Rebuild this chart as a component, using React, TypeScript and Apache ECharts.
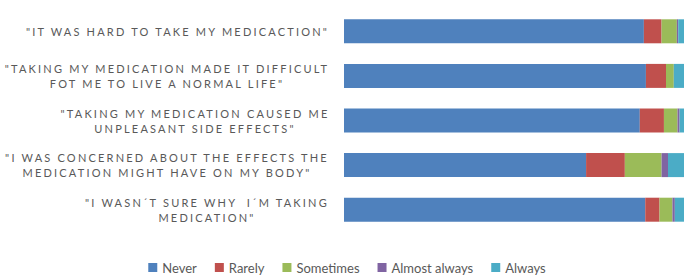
import React, { useEffect, useRef } from "react";
import * as echarts from "echarts";

const categories = [
  '"IT WAS HARD TO TAKE MY MEDICACTION"',
  '"TAKING MY MEDICATION MADE IT DIFFICULT\nFOT ME TO LIVE A NORMAL LIFE"',
  '"TAKING MY MEDICATION CAUSED ME\nUNPLEASANT SIDE EFFECTS"',
  '"I WAS CONCERNED ABOUT THE EFFECTS THE\nMEDICATION MIGHT HAVE ON MY BODY"',
  '"I WASN´T SURE WHY  I´M TAKING\nMEDICATION"',
];
const seriesNames = ["Never", "Rarely", "Sometimes", "Almost always", "Always"];
const never = [88.2, 88.8, 87.0, 71.2, 88.6];
const rarely = [5.2, 5.9, 7.1, 11.4, 4.2];
const sometimes = [4.5, 2.3, 4.0, 10.8, 3.8];
const almostAlways = [0.4, 0, 0.6, 1.9, 0.7];
const always = [1.7, 3.0, 1.3, 4.7, 2.7];
const colors = ["#4F81BD", "#C0504D", "#9BBB59", "#8064A2", "#4BACC6"];

const LABEL_FONT = "Lato";
const LABEL_SIZE = 11;
const LS = 2.2;
const LABEL_COLOR = "#595959";

export default function App() {
  const ref = useRef<HTMLDivElement>(null);
  useEffect(() => {
    if (!ref.current) return;
    const chart = echarts.init(ref.current, undefined, { renderer: "svg" });
    const ctx = document.createElement("canvas").getContext("2d")!;
    ctx.font = `${LABEL_SIZE}px ${LABEL_FONT}`;
    const rich: Record<string, any> = {};
    categories.forEach((c, i) => {
      const lines = c.split("\n");
      const w = Math.max(...lines.map((l) => ctx.measureText(l).width + l.length * LS));
      rich["r" + i] = {
        width: Math.ceil(w),
        align: "center",
        fontSize: LABEL_SIZE,
        fontFamily: LABEL_FONT,
        color: LABEL_COLOR,
        lineHeight: 15,
      };
    });
    const data = [never, rarely, sometimes, almostAlways, always];
    chart.setOption({
      animation: false,
      grid: {
        left: 344,
        right: 10,
        top: 9,
        bottom: 46,
        containLabel: false,
        outerBoundsMode: "none",
      },
      xAxis: { type: "value", min: 0, max: 100, show: false },
      yAxis: {
        type: "category",
        inverse: true,
        data: categories,
        axisLine: { show: false },
        axisTick: { show: false },
        axisLabel: {
          margin: 14,
          align: "right",
          color: LABEL_COLOR,
          fontSize: LABEL_SIZE,
          fontFamily: LABEL_FONT,
          lineHeight: 15,
          formatter: (v: string, i: number) =>
            v.split("\n").map((l) => `{r${i}|${l}}`).join("\n"),
          rich,
        },
      },
      legend: {
        data: seriesNames,
        left: "center",
        top: 256,
        icon: "rect",
        itemWidth: 9,
        itemHeight: 9,
        itemGap: 18,
        textStyle: { fontSize: 13, color: "#595958", fontFamily: "Lato" },
      },
      series: seriesNames.map((name, k) => ({
        name,
        type: "bar",
        stack: "total",
        barWidth: 24,
        data: data[k],
        itemStyle: { color: colors[k] },
        emphasis: { disabled: true },
      })),
    });
    return () => chart.dispose();
  }, []);
  return (
    <>
      <style>{`.chartbox text[fill="${LABEL_COLOR}"]{letter-spacing:${LS}px;}`}</style>
      <div
        ref={ref}
        className="chartbox"
        style={{ position: "absolute", left: 0, top: 0, width: 694, height: 278, background: "#fff" }}
      />
    </>
  );
}
